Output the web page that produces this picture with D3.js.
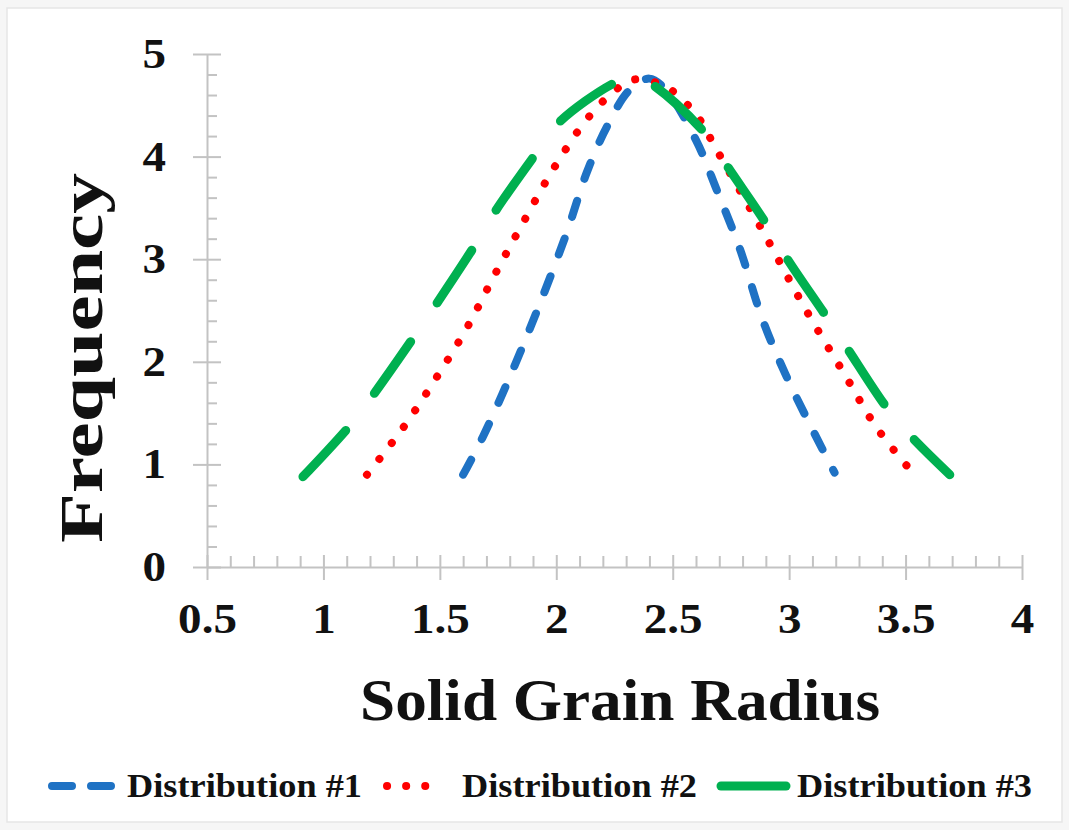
<!DOCTYPE html><html>
<head>
<meta charset="utf-8">
<style>
body { margin: 0; padding: 0; background-color: #f6f6f6; }
svg { display: block; }
text { font-family: "Liberation Serif", "Times New Roman", serif; font-weight: bold; fill: #111; }
.axis line, .axis path { stroke: #c3c3c3; stroke-width: 2px; }
</style>
<script src="https://cdn.jsdelivr.net/npm/d3@7"></script>
</head>
<body>
<svg id="chart" width="1069" height="830"></svg>
<script>
// values
var xTicks = [0.5, 1, 1.5, 2, 2.5, 3, 3.5, 4];
var yTicks = [0, 1, 2, 3, 4, 5];

var d1x = [1.60, 1.685, 1.813, 1.93, 2.045, 2.13, 2.217, 2.315, 2.40, 2.47, 2.60, 2.69, 2.79, 2.886, 2.99, 3.10, 3.195];
var d1y = [0.90, 1.27, 1.92, 2.57, 3.26, 3.84, 4.29, 4.65, 4.76, 4.65, 4.16, 3.67, 3.09, 2.41, 1.85, 1.34, 0.92];

var d2x = [1.187, 1.34, 1.478, 1.616, 1.736, 1.856, 1.985, 2.13, 2.24, 2.33, 2.47, 2.60, 2.69, 2.90, 3.066, 3.24, 3.375, 3.53];
var d2y = [0.90, 1.35, 1.82, 2.33, 2.85, 3.35, 3.87, 4.36, 4.62, 4.75, 4.68, 4.41, 4.06, 3.22, 2.53, 1.87, 1.36, 0.92];

var d3x = [0.912, 1.122, 1.221, 1.40, 1.487, 1.66, 1.736, 1.916, 2.015, 2.26, 2.33, 2.40, 2.646, 2.736, 2.90, 2.99, 3.16, 3.25, 3.42, 3.525, 3.69];
var d3y = [0.88, 1.40, 1.70, 2.28, 2.57, 3.17, 3.46, 4.04, 4.34, 4.73, 4.77, 4.72, 4.21, 3.90, 3.35, 3.01, 2.44, 2.13, 1.55, 1.27, 0.90];

var names = ["Distribution #1", "Distribution #2", "Distribution #3"];

var series = [
    { name: names[0], xs: d1x, ys: d1y, color: "#1f72c4", width: 8, dash: "17,23", lx: [52, 111], ldash: "20,19", tx: 127 },
    { name: names[1], xs: d2x, ys: d2y, color: "#ff0000", width: 8, dash: "0.1,20", lx: [387, 444], ldash: "0.1,19", tx: 462 },
    { name: names[2], xs: d3x, ys: d3y, color: "#00b050", width: 9, dash: "63,47", lx: [721, 786], ldash: null, tx: 797 }
];

var svg = d3.select("svg#chart");

svg.append("rect")
    .attr("x", 7).attr("y", 8).attr("width", 1055).attr("height", 814)
    .attr("fill", "#ffffff").attr("stroke", "#e6e6e6").attr("stroke-width", 1.5);

var x = d3.scaleLinear().domain([0.5, 4]).range([207, 1022]);
var y = d3.scaleLinear().domain([0, 5]).range([567, 54]);

// stretch text a bit wider, the original font is wider than ours
function widen(sel, k) {
    sel.each(function() {
        var len = this.getComputedTextLength();
        d3.select(this).attr("textLength", len * k).attr("lengthAdjust", "spacingAndGlyphs");
    });
}

// minor ticks
var xMinor = d3.range(0.6, 4, 0.1).filter(v => Math.abs(v * 2 - Math.round(v * 2)) > 0.01);
var yMinor = d3.range(0.2, 5, 0.2).filter(v => Math.abs(v - Math.round(v)) > 0.01);

svg.append("g").attr("class", "axis")
    .attr("transform", "translate(0," + y(0) + ")")
    .call(d3.axisTop(x).tickValues(xMinor).tickSize(11).tickSizeOuter(0).tickFormat(""))
    .select(".domain").remove();

svg.append("g").attr("class", "axis")
    .attr("transform", "translate(" + x(0.5) + ",0)")
    .call(d3.axisRight(y).tickValues(yMinor).tickSize(10).tickSizeOuter(0).tickFormat(""))
    .select(".domain").remove();

// major axes
var xAxis = svg.append("g").attr("class", "axis")
    .attr("transform", "translate(0," + y(0) + ")")
    .call(d3.axisBottom(x).tickValues(xTicks).tickSize(13).tickSizeOuter(0).tickPadding(23).tickFormat(d3.format("")));
xAxis.selectAll(".tick line").attr("y1", -12);
xAxis.selectAll("text").style("font-size", "42px").attr("fill", "#111");
widen(xAxis.selectAll("text"), 1.12);

var yAxis = svg.append("g").attr("class", "axis")
    .attr("transform", "translate(" + x(0.5) + ",0)")
    .call(d3.axisLeft(y).tickValues(yTicks).tickSize(14).tickSizeOuter(0).tickPadding(27).tickFormat(d3.format("d")));
yAxis.selectAll(".tick line").attr("x1", 14);
yAxis.selectAll("text").style("font-size", "42px").attr("fill", "#111");
widen(yAxis.selectAll("text"), 1.12);

// curves
var line = d3.line()
    .x(d => x(d[0]))
    .y(d => y(d[1]))
    .curve(d3.curveCatmullRom.alpha(0.5));

svg.append("g").selectAll("path.curve").data(series).enter().append("path")
    .attr("class", "curve")
    .attr("d", s => line(d3.zip(s.xs, s.ys)))
    .attr("fill", "none")
    .attr("stroke", s => s.color)
    .attr("stroke-width", s => s.width)
    .attr("stroke-linecap", "round")
    .attr("stroke-dasharray", s => s.dash);

// axis titles
svg.append("text")
    .attr("x", 360).attr("y", 720)
    .style("font-size", "60px")
    .attr("textLength", 520).attr("lengthAdjust", "spacingAndGlyphs")
    .text("Solid Grain Radius");

svg.append("text")
    .attr("transform", "translate(102,358) rotate(-90)")
    .attr("text-anchor", "middle")
    .style("font-size", "62px")
    .attr("textLength", 370).attr("lengthAdjust", "spacingAndGlyphs")
    .text("Frequency");

// legend
var lg = svg.append("g");
lg.selectAll("line").data(series).enter().append("line")
    .attr("x1", s => s.lx[0]).attr("x2", s => s.lx[1])
    .attr("y1", 786).attr("y2", 786)
    .attr("stroke", s => s.color)
    .attr("stroke-width", s => s.width)
    .attr("stroke-linecap", "round")
    .attr("stroke-dasharray", s => s.ldash);
lg.selectAll("text").data(series).enter().append("text")
    .attr("x", s => s.tx).attr("y", 797)
    .style("font-size", "33px")
    .attr("textLength", 235).attr("lengthAdjust", "spacingAndGlyphs")
    .text(s => s.name);
</script>
</body>
</html>
